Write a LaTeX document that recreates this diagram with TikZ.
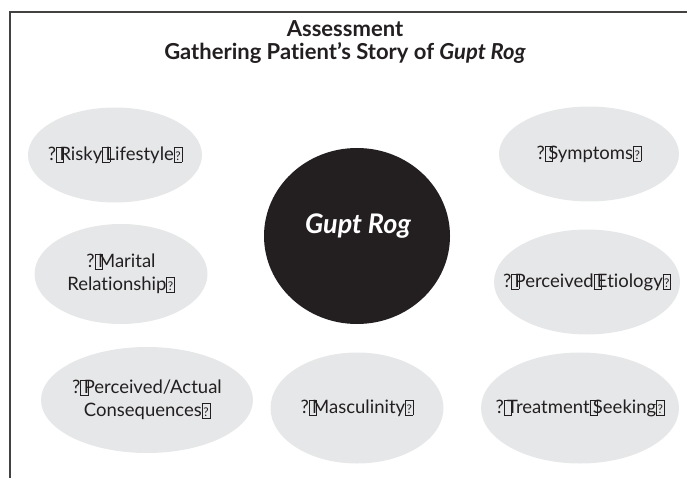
\documentclass[tikz,border=0pt]{standalone}
\usepackage{fontspec}
\setmainfont[Ligatures=NoCommon]{Lato}
\usetikzlibrary{shapes.geometric}
\definecolor{ink}{HTML}{231F20}
\definecolor{bub}{HTML}{E6E7E8}
\newcommand{\gbx}{\makebox[0.18em][l]{\raisebox{-0.08em}{\setlength{\fboxsep}{0pt}\setlength{\fboxrule}{0.6pt}\fbox{\rule{0pt}{0.78em}\hspace{0.36em}}}}}
\newcommand{\gbq}{\raisebox{-0.08em}{\setlength{\fboxsep}{0pt}\setlength{\fboxrule}{0.6pt}\fbox{\makebox[0.38em]{\rule{0pt}{0.78em}\raisebox{0.08em}{\fontsize{12pt}{12pt}\selectfont ?}}}}}
\tikzset{
  bubble/.style={ellipse, fill=bub, inner sep=0pt},
  bubtext/.style={text=ink, align=center, inner sep=0pt,
    font=\fontsize{18.5pt}{23pt}\selectfont},
  coretext/.style={text=white, font=\fontsize{27pt}{28pt}\selectfont\bfseries\itshape},
  core/.style={ellipse, fill=ink, inner sep=0pt},
  title/.style={text=ink, font=\fontsize{22pt}{24pt}\selectfont\bfseries},
  frame/.style={draw=ink!85, line width=1.4pt}
}
\begin{document}
\begin{tikzpicture}[x=1pt,y=-1pt]
\useasboundingbox (0,0) rectangle (687,478);
\coordinate (tl) at (10,12);
\coordinate (tr) at (687,12);
\coordinate (bl) at (10,478);
\draw[frame] (tr) -- (tl) -- (bl);
\node[title] (t1) at (345,29) {Assessment};
\node[title] (t2) at (345,53) {Gathering Patient’s Story of \textit{Gupt Rog}};
\node[core, minimum width=186pt, minimum height=176pt] (gr) at (357,236) {};
\node[coretext] (grt) at (358,226) {Gupt Rog};
\node[bubble, minimum width=174pt, minimum height=95pt] (risk) at (115,155) {};
\node[bubtext] (riskt) at (risk.center) {?\gbx Risky\gbx Lifestyle\gbq};
\node[bubble, minimum width=173pt, minimum height=100pt] (mar) at (121,274) {};
\node[bubtext] (mart) at (mar.center) {?\gbx Marital\\Relationship\gbq};
\node[bubble, minimum width=212pt, minimum height=106pt] (con) at (147,400) {};
\node[bubtext] (cont) at (con.center) {?\gbx Perceived/Actual\\Consequences\gbq};
\node[bubble, minimum width=173pt, minimum height=111pt] (mas) at (357,408) {};
\node[bubtext] (mast) at (mas.center) {?\gbx Masculinity\gbq};
\node[bubble, minimum width=198pt, minimum height=111pt] (tre) at (580,408) {};
\node[bubtext] (tret) at (tre.center) {?\gbx Treatment\gbx Seeking\gbq};
\node[bubble, minimum width=180pt, minimum height=95pt] (sym) at (589,154) {};
\node[bubtext] (symt) at (sym.center) {?\gbx Symptoms\gbq};
\node[bubble, minimum width=186pt, minimum height=105pt] (eti) at (587,282) {};
\node[bubtext] (etit) at (eti.center) {?\gbx Perceived\gbx Etiology\gbq};
\end{tikzpicture}
\end{document}
